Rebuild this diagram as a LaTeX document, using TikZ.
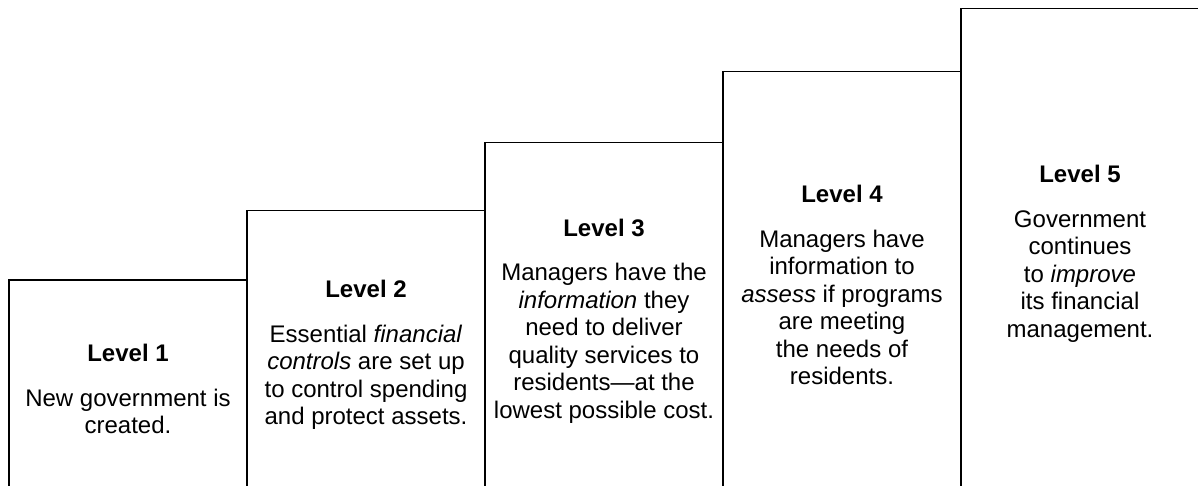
\documentclass[tikz,border=0pt]{standalone}
\usepackage{fontspec}
\setmainfont{Liberation Sans}
\usetikzlibrary{positioning}

\tikzset{
  levelbox/.style={align=center, inner sep=0pt, minimum width=237.6pt,
    font=\fontsize{24}{27.5}\selectfont},
  stairline/.style={line width=1.8pt}
}
\newcommand{\levelhead}[1]{\textbf{Level #1}\\[17pt]}

\begin{document}
\begin{tikzpicture}[x=1pt,y=1pt]
    \useasboundingbox (0,0) rectangle (1198,485);

    % the five steps, each one sitting on the right of the last
    % (they run on below the page edge, so the text sits a bit low)
    \node[levelbox, minimum height=219pt, anchor=south west] (level1) at (9,-14)
        {\levelhead{1}New government is\\created.};
    \node[levelbox, minimum height=288pt, anchor=south west] (level2) at (level1.south east)
        {\levelhead{2}Essential \textit{financial}\\\textit{controls} are set up\\to control spending\\and protect assets.};
    \node[levelbox, minimum height=356pt, anchor=south west] (level3) at (level2.south east)
        {\levelhead{3}Managers have the\\\textit{information} they\\need to deliver\\quality services to\\residents---at the\\lowest possible cost.};
    \node[levelbox, minimum height=427pt, anchor=south west] (level4) at (level3.south east)
        {\levelhead{4}Managers have\\information to\\\textit{assess} if programs\\are meeting\\the needs of\\residents.};
    \node[levelbox, minimum height=490pt, anchor=south west] (level5) at (level4.south east)
        {\levelhead{5}Government\\continues\\to \textit{improve}\\its financial\\management.};

    % open outlines, no line along the bottom
    \draw[stairline] (level1.south west) |- (level1.north east) -- (level1.south east);
    \draw[stairline] (level2.south west) |- (level2.north east) -- (level2.south east);
    \draw[stairline] (level3.south west) |- (level3.north east) -- (level3.south east);
    \draw[stairline] (level4.south west) |- (level4.north east) -- (level4.south east);
    \draw[stairline] (level5.south west) |- (level5.north east) -- (level5.south east);
\end{tikzpicture}
\end{document}
